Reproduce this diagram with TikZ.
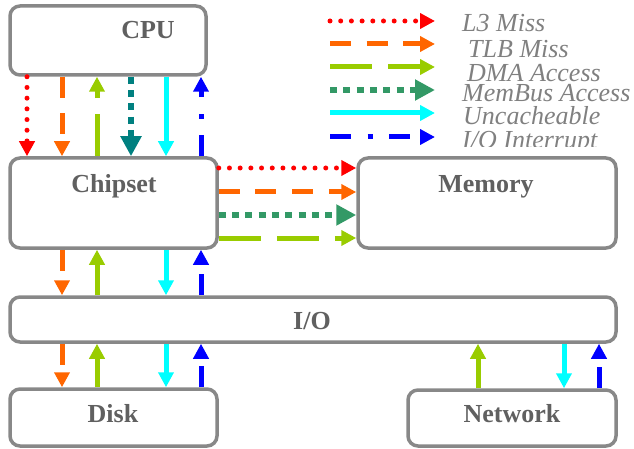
\documentclass[tikz,border=0pt]{standalone}
\usepackage{fontspec}
\setmainfont{Liberation Serif}
\usetikzlibrary{arrows.meta}

\definecolor{boxgray}{HTML}{888888}
\definecolor{lblgray}{HTML}{606060}
\definecolor{leggray}{HTML}{808080}
\definecolor{cOrange}{HTML}{FF6600}
\definecolor{cLime}{HTML}{99CC00}
\definecolor{cTeal}{HTML}{008080}
\definecolor{cSea}{HTML}{339966}
\definecolor{cCyan}{HTML}{00FFFF}
\definecolor{cBlue}{HTML}{0000FF}

\tikzset{
  unit/.style={draw=boxgray, line width=3.5pt, rounded corners=10pt, fill=white, inner sep=0pt},
  unitlbl/.style={anchor=base, text=lblgray, font=\fontsize{26}{26}\selectfont\bfseries, inner sep=0pt},
  leglbl/.style={anchor=base west, text=leggray, font=\fontsize{26}{26}\selectfont\itshape, inner sep=0pt},
  flow/.style={line width=5pt},
  smallhead/.style={-{Triangle[width=15pt,length=15pt]}},
  bighead/.style={-{Triangle[width=20pt,length=20pt]}},
  missL3/.style={flow, smallhead, red, line cap=round, dash pattern=on 0pt off 10.7pt},
  missTLB/.style={flow, smallhead, cOrange, dash pattern=on 21pt off 15.7pt},
  dma/.style={flow, smallhead, cLime, dash pattern=on 42pt off 16pt},
  membus/.style={flow, bighead, cSea, line width=6.5pt, dash pattern=on 7pt off 6.3pt},
  membusv/.style={membus, cTeal},
  uncache/.style={flow, smallhead, cCyan},
  ioint/.style={flow, smallhead, cBlue, dash pattern=on 21pt off 16.5pt on 5pt off 16.5pt},
}

\begin{document}
\begin{tikzpicture}[x=1pt, y=-1pt]
\useasboundingbox (0,0) rectangle (634,449);

% ---- units ----
\node[unit, minimum width=196pt, minimum height=69pt] (cpu)  at (108,40.5) {};
\node[unit, minimum width=207pt, minimum height=90pt] (chip) at (113.5,203) {};
\node[unit, minimum width=258pt, minimum height=90pt] (mem)  at (487,203) {};
\node[unit, minimum width=606pt, minimum height=45pt] (io)   at (313,319.5) {};
\node[unit, minimum width=207pt, minimum height=57pt] (disk) at (113.5,417.5) {};
\node[unit, minimum width=208pt, minimum height=56pt] (net)  at (512,418) {};

\node[unitlbl] (cpulbl)  at (148,39)  {CPU};
\node[unitlbl] (chiplbl) at (114,193) {Chipset};
\node[unitlbl] (memlbl)  at (486,193) {Memory};
\node[unitlbl] (iolbl)   at (312,329) {I/O};
\node[unitlbl] (disklbl) at (113,422) {Disk};
\node[unitlbl] (netlbl)  at (512,422) {Network};

% ---- columns and rows of the connectors ----
\coordinate (c1) at (27,0);
\coordinate (c2) at (62,0);
\coordinate (c3) at (97,0);
\coordinate (c4) at (131,0);
\coordinate (c5) at (166,0);
\coordinate (c6) at (201,0);
\coordinate (n1) at (478,0);
\coordinate (n2) at (564,0);
\coordinate (n3) at (599,0);
\coordinate (r1) at (0,168);
\coordinate (r2) at (0,192);
\coordinate (r3) at (0,215);
\coordinate (r4) at (0,238);

% CPU <-> chipset
\draw[missL3]  (cpu.south -| c1) -- (chip.north -| c1);
\draw[missTLB] (cpu.south -| c2) -- (chip.north -| c2);
\draw[dma]     (chip.north -| c3) -- (cpu.south -| c3);
\draw[membusv] (cpu.south -| c4) -- (chip.north -| c4);
\draw[uncache] (cpu.south -| c5) -- (chip.north -| c5);
\draw[ioint]   (chip.north -| c6) -- (cpu.south -| c6);

% chipset -> memory
\draw[missL3]  (chip.east |- r1) -- (mem.west |- r1);
\draw[missTLB] (chip.east |- r2) -- (mem.west |- r2);
\draw[membus]  (chip.east |- r3) -- (mem.west |- r3);
\draw[dma]     (chip.east |- r4) -- (mem.west |- r4);

% chipset <-> I/O
\draw[missTLB] (chip.south -| c2) -- (io.north -| c2);
\draw[dma]     (io.north -| c3) -- (chip.south -| c3);
\draw[uncache] (chip.south -| c5) -- (io.north -| c5);
\draw[ioint]   (io.north -| c6) -- (chip.south -| c6);

% I/O <-> disk
\draw[missTLB] (io.south -| c2) -- (disk.north -| c2);
\draw[dma]     (disk.north -| c3) -- (io.south -| c3);
\draw[uncache] (io.south -| c5) -- (disk.north -| c5);
\draw[ioint]   (disk.north -| c6) -- (io.south -| c6);

% I/O <-> network
\draw[dma]     (net.north -| n1) -- (io.south -| n1);
\draw[uncache] (io.south -| n2) -- (net.north -| n2);
\draw[ioint]   (net.north -| n3) -- (io.south -| n3);

% ---- legend ----
\foreach \k/\yy in {1/21,2/44,3/67,4/90,5/113,6/137}{
  \coordinate (ls\k) at (330,\yy);
  \coordinate (le\k) at (435,\yy);
}
\draw[missL3]  (ls1) -- (le1);
\draw[missTLB] (ls2) -- (le2);
\draw[dma]     (ls3) -- (le3);
\draw[membus]  (ls4) -- (le4);
\draw[uncache] (ls5) -- (le5);
\draw[ioint]   (ls6) -- (le6);

\node[leglbl] (lg1) at (462,32)  {L3 Miss};
\node[leglbl] (lg2) at (468,58)  {TLB Miss};
\node[leglbl] (lg3) at (467,82)  {DMA Access};
\node[leglbl] (lg4) at (462,102) {MemBus Access};
\node[leglbl] (lg5) at (463,125) {Uncacheable};
\begin{scope}
  \clip (455,120) rectangle (634,147);
  \node[leglbl] (lg6) at (462,149) {I/O Interrupt};
\end{scope}
\end{tikzpicture}
\end{document}
